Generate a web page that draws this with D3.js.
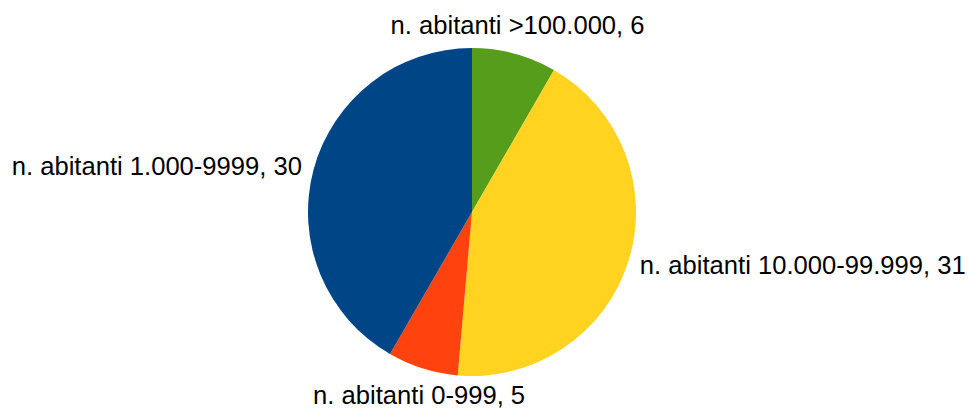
<!DOCTYPE html>
<html>
<head>
<meta charset="utf-8">
<script src="https://cdn.jsdelivr.net/npm/d3@7"></script>
<style>
  body { margin: 0; background: #fff; }
  text { font-family: "Liberation Sans", Arial, sans-serif; font-size: 25.6px; fill: #000; }
</style>
</head>
<body>
<div id="chart"></div>
<script>
// data, clockwise from 12 o'clock
var categorie = ["n. abitanti >100.000", "n. abitanti 10.000-99.999", "n. abitanti 0-999", "n. abitanti 1.000-9999"];
var valori = [6, 31, 5, 30];
var colori = ["#579d1c", "#ffd320", "#ff420e", "#004586"];

var width = 970, height = 412;
var cx = 472, cy = 212, raggio = 164, raggio_label = 176;

var svg = d3.select("#chart")
    .append("svg")
    .attr("width", width)
    .attr("height", height);

var g = svg.append("g")
    .attr("transform", "translate(" + cx + "," + cy + ")");

var pie = d3.pie().sort(null).value(function(d) { return d; });
var arc = d3.arc().innerRadius(0).outerRadius(raggio);
var fette = pie(valori);

g.selectAll("path")
    .data(fette)
    .enter()
    .append("path")
    .attr("d", arc)
    .attr("fill", function(d, i) { return colori[i]; });

// labels outside the pie, anchored by side
g.selectAll("text")
    .data(fette)
    .enter()
    .append("text")
    .attr("x", function(d) {
        var a = (d.startAngle + d.endAngle) / 2;
        return raggio_label * Math.sin(a);
    })
    .attr("y", function(d) {
        var a = (d.startAngle + d.endAngle) / 2;
        var c = Math.cos(a);
        var y = -raggio_label * c;
        if (c > 0.6) return y - 8;
        if (c < -0.6) return y + 24;
        return y + 9;
    })
    .attr("text-anchor", function(d) {
        var s = Math.sin((d.startAngle + d.endAngle) / 2);
        if (s > 0.6) return "start";
        if (s < -0.6) return "end";
        return "middle";
    })
    .text(function(d, i) { return categorie[i] + ", " + valori[i]; });
</script>
</body>
</html>
